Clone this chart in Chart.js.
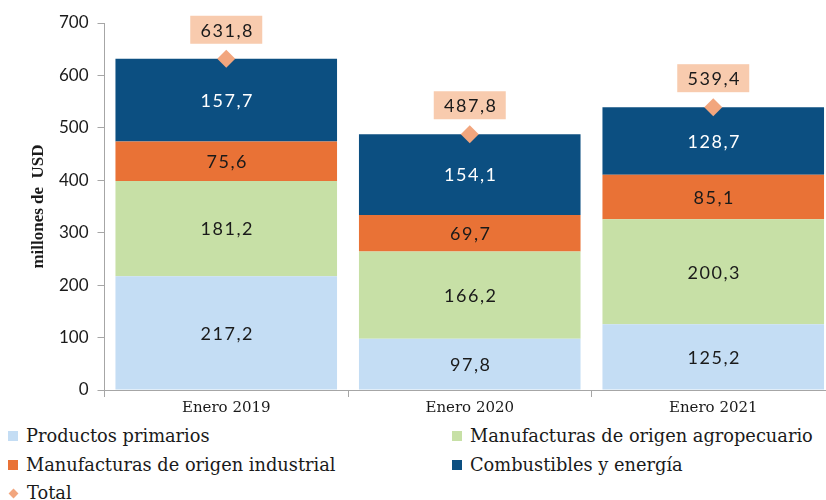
<!DOCTYPE html>
<html>
<head>
<meta charset="utf-8">
<script src="https://cdn.jsdelivr.net/npm/chart.js@4"></script>
<style>
  body { margin: 0; background: #fff; width: 826px; height: 500px; position: relative; overflow: hidden; }
  #wrap { position: absolute; left: 0; top: 0; width: 840px; height: 420px; }
  .leg { position: absolute; font-family: "DejaVu Serif", serif; font-size: 17.8px; color: #1a1a1a; line-height: 20px; white-space: nowrap; }
  .leg span.box { display: inline-block; width: 10px; height: 10px; margin-right: 8px; vertical-align: 1px; }
  .leg span.dia { display: inline-block; width: 7px; height: 7px; margin: 0 10px 0 2px; transform: rotate(45deg); vertical-align: 2px; }
</style>
</head>
<body>
<div id="wrap"><canvas id="chart" width="840" height="420"></canvas></div>
<div id="legend"></div>
<script>
const categories = ['Enero 2019', 'Enero 2020', 'Enero 2021'];
const primarios = [217.2, 97.8, 125.2];
const agropecuario = [181.2, 166.2, 200.3];
const industrial = [75.6, 69.7, 85.1];
const combustibles = [157.7, 154.1, 128.7];
const total = [631.8, 487.8, 539.4];

const yMin = 0, yMax = 700, yStep = 100;

const seriesNames = ['Productos primarios', 'Manufacturas de origen agropecuario',
                     'Manufacturas de origen industrial', 'Combustibles y energía', 'Total'];
const colors = ['#C4DDF4', '#C7E0A6', '#E97236', '#0C4F81', '#F2A67E'];

function fmt(v) {
    return v.toFixed(1).replace('.', ',');
}

// value labels inside the bars and boxes over the totals
const labelPlugin = {
    id: 'labels',
    afterDatasetsDraw(chart) {
        const ctx = chart.ctx;
        ctx.save();
        ctx.textAlign = 'center';
        ctx.textBaseline = 'middle';
        ctx.font = '18px Lato, sans-serif';
        ctx.letterSpacing = '1.5px';
        chart.data.datasets.forEach((ds, i) => {
            const meta = chart.getDatasetMeta(i);
            meta.data.forEach((el, j) => {
                const v = ds.data[j];
                if (ds.type === 'line') {
                    const bx = el.x, by = el.y - 29;
                    ctx.fillStyle = '#F8CBAE';
                    ctx.fillRect(bx - 36, by - 14, 72, 28);
                    ctx.fillStyle = '#1a1a1a';
                    ctx.fillText(fmt(v), bx + 1, by + 1);
                } else {
                    ctx.fillStyle = i === 3 ? '#ffffff' : '#1a1a1a';
                    ctx.fillText(fmt(v), el.x + 1, (el.y + el.base) / 2 + 1);
                }
            });
        });
        ctx.restore();
    }
};

const barData = [primarios, agropecuario, industrial, combustibles];
const datasets = barData.map((d, i) => ({
    type: 'bar',
    label: seriesNames[i],
    data: d,
    backgroundColor: colors[i],
    categoryPercentage: 1,
    barPercentage: 0.91,
    order: 1
}));
datasets.push({
    type: 'line',
    label: 'Total',
    data: total,
    showLine: false,
    stack: 'total',
    pointStyle: 'rectRot',
    pointRadius: 9,
    pointBackgroundColor: colors[4],
    pointBorderWidth: 0,
    order: 0
});

new Chart(document.getElementById('chart'), {
    data: { labels: categories, datasets: datasets },
    options: {
        responsive: false,
        animation: false,
        // plot runs past the right edge of the window, as in the original
        layout: { autoPadding: false, padding: { top: 23, right: 5, bottom: 0, left: 0 } },
        plugins: { legend: { display: false }, tooltip: { enabled: false } },
        scales: {
            x: {
                stacked: true,
                grid: { drawOnChartArea: false, tickLength: 7, color: '#A6A6A6', offset: true },
                border: { color: '#A6A6A6' },
                ticks: { color: '#1a1a1a', font: { family: 'DejaVu Serif', size: 15 }, padding: 2 },
                afterFit(scale) { scale.height = 30; }
            },
            y: {
                stacked: true,
                min: yMin,
                max: yMax,
                grid: { drawOnChartArea: false, tickLength: 7, color: '#A6A6A6' },
                border: { color: '#A6A6A6' },
                ticks: { stepSize: yStep, color: '#1a1a1a', font: { family: 'Lato', size: 17 }, padding: 9 },
                title: { display: true, text: 'millones de  USD', color: '#1a1a1a',
                         font: { family: 'Liberation Serif', size: 17, weight: 'bold' }, padding: { top: 28, bottom: 0 } },
                afterFit(scale) { scale.width = 104.5; }
            }
        }
    },
    plugins: [labelPlugin]
});

// legend laid out in two columns like the original
const legendPos = [[8, 426], [452, 426], [8, 455], [452, 455], [8, 483]];
const legend = document.getElementById('legend');
seriesNames.forEach((name, i) => {
    const div = document.createElement('div');
    div.className = 'leg';
    div.style.left = legendPos[i][0] + 'px';
    div.style.top = legendPos[i][1] + 'px';
    const mark = document.createElement('span');
    mark.className = i === 4 ? 'dia' : 'box';
    mark.style.background = colors[i];
    div.appendChild(mark);
    div.appendChild(document.createTextNode(name));
    legend.appendChild(div);
});
</script>
</body>
</html>
